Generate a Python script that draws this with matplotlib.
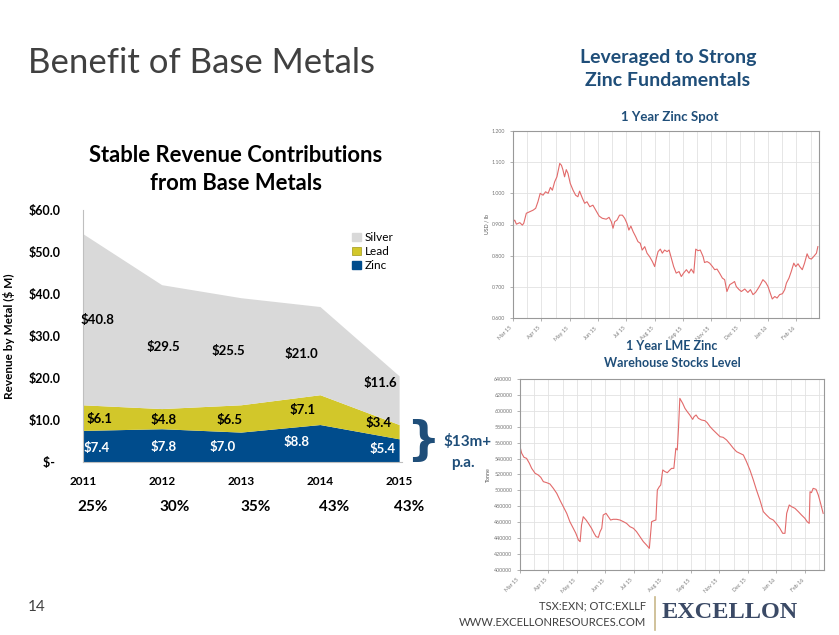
import matplotlib.pyplot as plt
from matplotlib.patches import Patch
import numpy as np

# Datos del grafico de ingresos por metal
anios = [2011, 2012, 2013, 2014, 2015]
zinc = [7.4, 7.8, 7.0, 8.8, 5.4]
plomo = [6.1, 4.8, 6.5, 7.1, 3.4]
plata = [40.8, 29.5, 25.5, 21.0, 11.6]
porcentajes = ['25%', '30%', '35%', '43%', '43%']
yticks_val = [0, 10, 20, 30, 40, 50, 60]
yticks_txt = ['$-  ', '$10.0', '$20.0', '$30.0', '$40.0', '$50.0', '$60.0']

# Zinc spot, USD/lb (x en meses desde Mar 15)
spot_x = [0.0, 0.06, 0.12, 0.24, 0.33, 0.38, 0.47, 0.59, 0.71, 0.80, 0.88, 0.96,
          1.06, 1.15, 1.24, 1.32, 1.39, 1.47, 1.55, 1.65, 1.71, 1.76, 1.82, 1.88,
          1.94, 2.02, 2.12, 2.21, 2.29, 2.35, 2.45, 2.53, 2.61, 2.71, 2.82, 2.92,
          3.04, 3.15, 3.29, 3.39, 3.47, 3.53, 3.59, 3.67, 3.76, 3.86, 3.94, 4.02,
          4.09, 4.16, 4.24, 4.33, 4.41, 4.49, 4.56, 4.65, 4.73, 4.82, 4.92, 5.0,
          5.06, 5.12, 5.2, 5.27, 5.35, 5.44, 5.51, 5.59, 5.67, 5.76, 5.86, 5.94,
          6.02, 6.12, 6.21, 6.29, 6.38, 6.45, 6.53, 6.61, 6.71, 6.76, 6.85, 6.94,
          7.04, 7.12, 7.2, 7.29, 7.39, 7.47, 7.55, 7.65, 7.74, 7.82, 7.88, 7.98,
          8.06, 8.18, 8.29, 8.38, 8.47, 8.56, 8.66, 8.73, 8.82, 8.92, 9.0, 9.08,
          9.15, 9.24, 9.32, 9.41, 9.51, 9.59, 9.65, 9.74, 9.82, 9.91, 9.98, 10.06,
          10.12, 10.21, 10.29, 10.38, 10.45, 10.53, 10.61, 10.71, 10.76]
spot_y = [0.909, 0.914, 0.901, 0.906, 0.898, 0.904, 0.936, 0.941, 0.946, 0.952, 0.973, 1.0,
          0.994, 1.005, 1.0, 1.019, 1.010, 1.037, 1.053, 1.096, 1.090, 1.076, 1.053, 1.076,
          1.064, 1.032, 1.010, 0.994, 0.989, 1.007, 0.984, 0.968, 0.973, 0.957, 0.962, 0.946,
          0.927, 0.920, 0.917, 0.923, 0.909, 0.888, 0.909, 0.914, 0.930, 0.930, 0.920, 0.904,
          0.882, 0.895, 0.877, 0.861, 0.845, 0.840, 0.818, 0.829, 0.808, 0.797, 0.781, 0.765,
          0.792, 0.813, 0.821, 0.808, 0.818, 0.813, 0.818, 0.792, 0.765, 0.744, 0.749, 0.733,
          0.744, 0.755, 0.744, 0.757, 0.744, 0.821, 0.816, 0.818, 0.797, 0.778, 0.781, 0.776,
          0.765, 0.755, 0.757, 0.744, 0.728, 0.723, 0.685, 0.707, 0.712, 0.717, 0.701, 0.691,
          0.685, 0.693, 0.682, 0.691, 0.675, 0.682, 0.696, 0.707, 0.723, 0.714, 0.701, 0.680,
          0.661, 0.669, 0.664, 0.675, 0.678, 0.691, 0.712, 0.728, 0.749, 0.776, 0.765, 0.774,
          0.765, 0.755, 0.776, 0.806, 0.792, 0.789, 0.797, 0.808, 0.829]

# Stocks LME, toneladas
lme_x = [0.0, 0.06, 0.14, 0.23, 0.33, 0.41, 0.53, 0.64, 0.73, 0.82, 0.94, 1.05,
         1.17, 1.29, 1.40, 1.52, 1.64, 1.75, 1.87, 1.96, 2.05, 2.11, 2.16, 2.22,
         2.32, 2.40, 2.51, 2.60, 2.67, 2.75, 2.81, 2.87, 2.92, 3.02, 3.10, 3.18,
         3.27, 3.39, 3.51, 3.63, 3.74, 3.86, 3.98, 4.09, 4.21, 4.33, 4.44, 4.54,
         4.62, 4.70, 4.77, 4.82, 4.89, 4.94, 5.01, 5.09, 5.17, 5.26, 5.32, 5.40,
         5.47, 5.52, 5.56, 5.61, 5.71, 5.79, 5.87, 5.96, 6.06, 6.11, 6.18, 6.26,
         6.37, 6.49, 6.57, 6.67, 6.78, 6.90, 7.02, 7.13, 7.25, 7.37, 7.49, 7.60,
         7.72, 7.84, 7.95, 8.07, 8.19, 8.30, 8.42, 8.54, 8.65, 8.77, 8.89, 9.01,
         9.12, 9.22, 9.30, 9.36, 9.45, 9.53, 9.65, 9.77, 9.88, 10.00, 10.08, 10.15,
         10.18, 10.23, 10.29, 10.39, 10.47, 10.55, 10.64]
lme_y = [555000, 546600, 541600, 540300, 534000, 527700, 521500, 519400, 516400, 511000, 509700, 508100,
         502600, 496300, 488000, 479600, 471200, 460700, 452400, 446100, 437700, 435600, 456500, 467000,
         462800, 458600, 452400, 446100, 441900, 441000, 448200, 452400, 469100, 471200, 467000, 462800,
         463700, 463700, 462800, 460700, 458600, 454400, 452400, 448200, 441900, 435600, 431400, 427200,
         460700, 462000, 462800, 500500, 504700, 506800, 525700, 523600, 522300, 525700, 527700, 527700,
         552900, 550800, 575900, 615700, 609400, 603100, 599000, 594800, 589300, 592700, 594800, 590600,
         588500, 587600, 585100, 580100, 575900, 571700, 567500, 566700, 563400, 558300, 552900, 548700,
         546600, 544500, 536100, 525700, 513100, 500500, 488000, 473300, 469100, 464900, 462800, 457800,
         452400, 446100, 446100, 471200, 481700, 479600, 477500, 473300, 469100, 464900, 460700, 458600,
         498400, 497200, 502600, 501400, 494200, 483800, 471200]

meses = ['Mar 15', 'Apr 15', 'May 15', 'Jun 15', 'Jul 15', 'Aug 15', 'Sep 15',
         'Nov 15', 'Dec 15', 'Jan 16', 'Feb 16']

AZUL = '#1f4e79'
plt.rcParams['font.family'] = ['Lato', 'DejaVu Sans']

fig = plt.figure(figsize=(8.39, 6.35), dpi=100)
fig.patch.set_facecolor('white')

# Textos de la diapositiva
fig.text(28/839, 1-63/635, 'Benefit of Base Metals', fontsize=25, color='#404040',
         ha='left', va='center')
fig.text(668/839, 1-58/635, 'Leveraged to Strong', fontsize=14, color=AZUL,
         fontweight='bold', ha='center', va='center')
fig.text(668/839, 1-81/635, 'Zinc Fundamentals', fontsize=14, color=AZUL,
         fontweight='bold', ha='center', va='center')
fig.text(236/839, 1-155/635, 'Stable Revenue Contributions', fontsize=15.8,
         fontweight='bold', ha='center', va='center')
fig.text(236/839, 1-183/635, 'from Base Metals', fontsize=15.8,
         fontweight='bold', ha='center', va='center')
fig.text(670/839, 1-117/635, '1 Year Zinc Spot', fontsize=9.5, color=AZUL,
         fontweight='bold', ha='center', va='center')
fig.text(672/839, 1-346/635, '1 Year LME Zinc', fontsize=9, color=AZUL,
         fontweight='bold', ha='center', va='center')
fig.text(672/839, 1-363/635, 'Warehouse Stocks Level', fontsize=9, color=AZUL,
         fontweight='bold', ha='center', va='center')
fig.text(28/839, 1-607/635, '14', fontsize=11, color='#404040', ha='left', va='center')
fig.text(646/839, 1-606/635, 'TSX:EXN; OTC:EXLLF', fontsize=8, color='#404040',
         ha='right', va='center')
fig.text(646/839, 1-623/635, 'WWW.EXCELLONRESOURCES.COM', fontsize=8.1, color='#404040',
         ha='right', va='center')
fig.add_artist(plt.Line2D([655/839, 655/839], [1-630/635, 1-597/635], color='#c8b88a', lw=1.2))
fig.text(662/839, 1-612/635, 'EXCELLON', fontsize=17.5, color='#3b4a66', fontweight='bold',
         family='Liberation Serif', ha='left', va='center')

# Grafico de areas apiladas
ax = fig.add_axes([83/839, 1-462/635, 319/839, 252/635])
ax.stackplot(anios, zinc, plomo, plata, colors=['#004c8c', '#d2c72a', '#d9d9d9'],
             edgecolor='none')
ax.set_xlim(2011, 2015.03)
ax.set_ylim(0, 60)
ax.set_yticks(yticks_val)
ax.set_yticklabels(yticks_txt, fontweight='bold', fontsize=9)
ax.set_xticks(anios)
ax.set_xticklabels([str(a) for a in anios], fontweight='bold', fontsize=8.5)
ax.tick_params(length=0)
ax.tick_params(axis='y', pad=16)
ax.tick_params(axis='x', pad=10)
for s in ['top', 'right']:
    ax.spines[s].set_visible(False)
ax.spines['left'].set_color('#bfbfbf')
ax.spines['bottom'].set_color('#bfbfbf')
ax.set_ylabel('Revenue by Metal ($ M)', fontweight='bold', fontsize=8.5)
ax.yaxis.set_label_coords(-0.213, 0.5)

# Etiquetas de valores
pos_x_plata = [0.18, 0.02, -0.17, -0.24, -0.25]
pos_y_plata = [33.8, 27.3, 26.5, 25.8, 18.8]
pos_x_plomo = [0.21, 0.02, -0.15, -0.23, -0.27]
pos_y_plomo = [10.25, 10.1, 10.1, 12.3, 9.4]
pos_x_zinc = [0.17, 0.02, -0.23, -0.3, -0.22]
pos_y_zinc = [3.4, 3.6, 3.6, 4.8, 3.2]
for i in range(len(anios)):
    ax.text(anios[i] + pos_x_plata[i], pos_y_plata[i], '$%.1f' % plata[i],
            fontsize=9.5, fontweight='bold', ha='center', va='center')
    ax.text(anios[i] + pos_x_plomo[i], pos_y_plomo[i], '$%.1f' % plomo[i],
            fontsize=9.5, fontweight='bold', ha='center', va='center')
    ax.text(anios[i] + pos_x_zinc[i], pos_y_zinc[i], '$%.1f' % zinc[i],
            fontsize=9.5, fontweight='bold', ha='center', va='center', color='white')

pct_x = [93, 175, 256, 334, 409]
for i in range(len(porcentajes)):
    fig.text(pct_x[i]/839, 1-507/635, porcentajes[i], fontsize=11, fontweight='bold',
             ha='center', va='center')

handles = [Patch(color='#d9d9d9', label='Silver'),
           Patch(color='#d2c72a', label='Lead', ec='#a09818', lw=0.5),
           Patch(color='#004c8c', label='Zinc')]
ax.legend(handles=handles, loc='upper left', bbox_to_anchor=(0.826, 0.935), frameon=False,
          fontsize=8.5, handlelength=0.7, handleheight=0.7, handletextpad=0.35,
          labelspacing=0.25, borderpad=0)

# Llave y texto $13m+
fig.text(423/839, 1-441/635, '}', fontsize=34, color=AZUL, fontweight='bold',
         ha='center', va='center', family='DejaVu Sans')
fig.text(468/839, 1-442/635, '$13m+', fontsize=11, color=AZUL, fontweight='bold',
         ha='center', va='center')
fig.text(463/839, 1-463/635, 'p.a.', fontsize=11, color=AZUL, fontweight='bold',
         ha='center', va='center')


def estilo_mini(a, xmax):
    a.set_xlim(0, xmax)
    a.set_xticks(np.arange(0, xmax, 0.5), minor=True)
    a.set_xticks(range(len(meses)))
    a.set_xticklabels(meses, rotation=45, ha='right', fontsize=3.8, color='#777777')
    a.grid(True, which='both', color='#e2e2e2', lw=0.6)
    a.tick_params(labelsize=3.8, colors='#777777', length=2, width=0.4)
    a.tick_params(which='minor', length=0)
    for s in a.spines.values():
        s.set_color('#999999')
        s.set_linewidth(0.8)
    a.set_axisbelow(True)


# Zinc spot
ax2 = fig.add_axes([513/839, 1-318/635, 306/839, 187/635])
ax2.plot(spot_x, spot_y, color='#e26a6a', lw=0.8)
ax2.set_ylim(0.6, 1.2)
ax2.set_yticks([0.6, 0.7, 0.8, 0.9, 1.0, 1.1, 1.2])
ax2.set_yticklabels(['0.600', '0.700', '0.800', '0.900', '1.000', '1.100', '1.200'])
estilo_mini(ax2, 10.8)
ax2.set_ylabel('USD / lb', fontsize=3.8, color='#555555', labelpad=2)

# LME stocks
ax3 = fig.add_axes([520/839, 1-570/635, 304/839, 191/635])
ax3.plot(lme_x, lme_y, color='#e26a6a', lw=0.8)
ax3.set_ylim(400000, 640000)
ax3.set_yticks(range(400000, 640001, 20000))
ax3.set_yticklabels([str(v) for v in range(400000, 640001, 20000)])
estilo_mini(ax3, 10.67)
ax3.set_ylabel('Tonne', fontsize=3.8, color='#555555', labelpad=2)

plt.savefig('out.png', dpi=100)
